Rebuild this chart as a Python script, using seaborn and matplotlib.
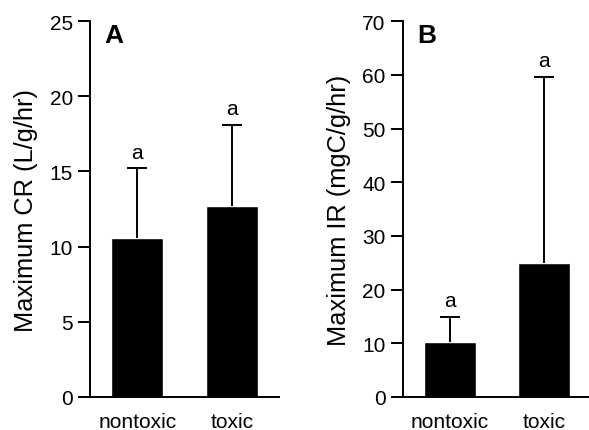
import numpy as np
import pandas as pd
import matplotlib
matplotlib.use("Agg")
import matplotlib.pyplot as plt
import seaborn as sns

groups = ["nontoxic", "toxic"]
cr_mean = [10.6, 12.7]
cr_err = [4.6, 5.4]
ir_mean = [10.2, 24.9]
ir_err = [4.7, 34.7]
sig_letters = ["a", "a"]

sns.set_style("ticks")
plt.rcParams["font.family"] = ["Liberation Sans", "DejaVu Sans"]
for key in ["text.color", "axes.labelcolor", "xtick.color", "ytick.color", "axes.edgecolor"]:
    plt.rcParams[key] = "black"

fig = plt.figure(figsize=(5.89, 4.31), dpi=100)
ax_a = fig.add_axes([0.153, 0.0766, 0.321, 0.872])
ax_b = fig.add_axes([0.684, 0.0766, 0.319, 0.872])


def panel(ax, means, errs, ymax, step, ylabel, tag):
    df = pd.DataFrame({"group": groups, "value": means})
    sns.barplot(data=df, x="group", y="value", color="black", width=0.55,
                saturation=1, ax=ax)
    x = np.arange(len(groups))
    eb = ax.errorbar(x, means, yerr=[np.zeros(len(errs)), errs], fmt="none",
                     ecolor="black", elinewidth=1.4, capsize=7, capthick=1.4)
    # only the upper caps, as in the original figure
    eb[1][0].set_visible(False)
    for xi, m, e, s in zip(x, means, errs, sig_letters):
        ax.text(xi, m + e + ymax * 0.018, s, ha="center", va="bottom", fontsize=15)
    ax.set_xlim(-0.5, 1.5)
    ax.set_ylim(0, ymax)
    ax.set_yticks(np.arange(0, ymax + 1, step))
    ax.set_xlabel("")
    ax.set_ylabel(ylabel, fontsize=18.3, labelpad=8)
    ax.tick_params(axis="y", labelsize=15, length=9, width=1.4, direction="out")
    ax.tick_params(axis="x", labelsize=15, length=0, pad=11)
    for side in ["left", "bottom"]:
        ax.spines[side].set_linewidth(1.4)
    sns.despine(ax=ax)
    ax.text(0.075, 0.995, tag, transform=ax.transAxes, fontsize=19,
            fontweight="bold", ha="left", va="top")


panel(ax_a, cr_mean, cr_err, 25, 5, "Maximum CR (L/g/hr)", "A")
panel(ax_b, ir_mean, ir_err, 70, 10, "Maximum IR (mgC/g/hr)", "B")

fig.savefig("out.png", dpi=100)
